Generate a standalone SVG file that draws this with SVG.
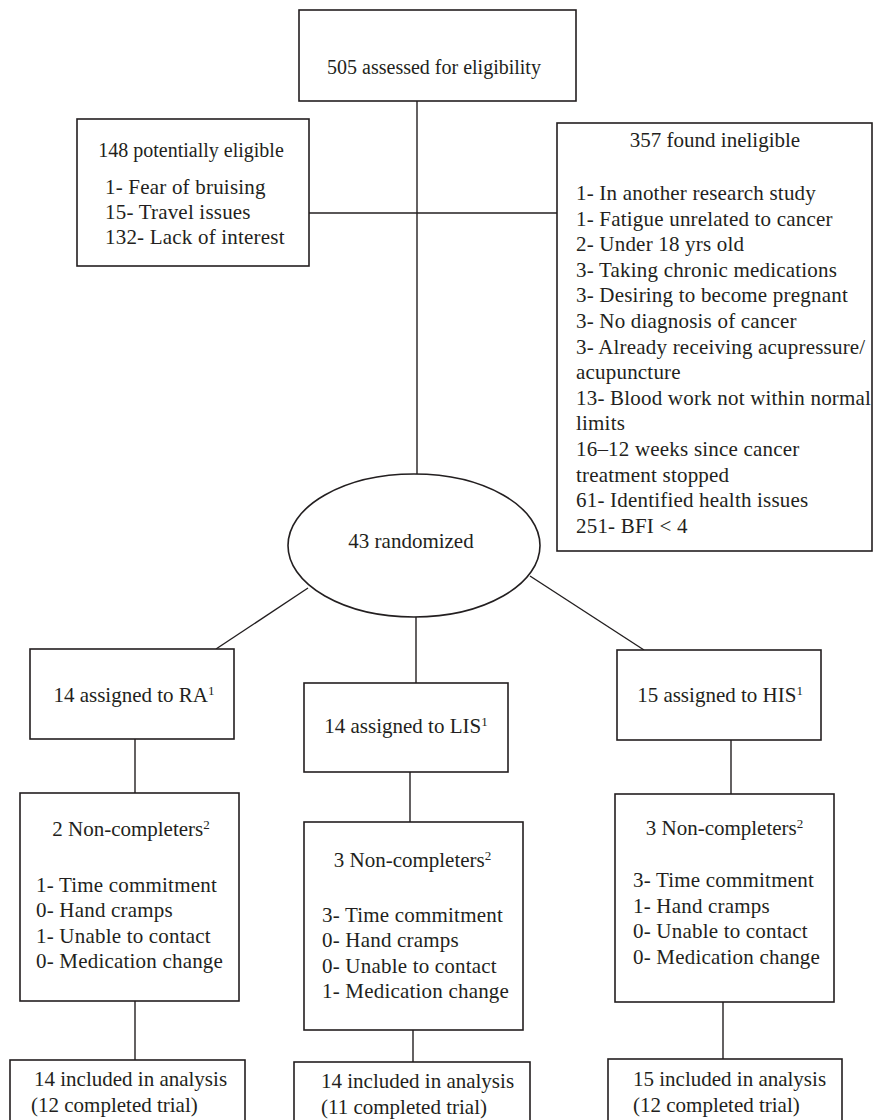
<svg xmlns="http://www.w3.org/2000/svg" width="873" height="1120" viewBox="0 0 873 1120">
<style>
.box{fill:#fff;stroke:#231f20;stroke-width:1.6}
.ln{stroke:#231f20;stroke-width:1.4;fill:none}
text{font-family:"Liberation Serif","Times New Roman",serif;font-size:21px;fill:#231f20}
.c{text-anchor:middle}
.it{letter-spacing:0.2px}
.t20{font-size:20px}
.sup{font-size:13px;letter-spacing:0}
</style>
<rect width="873" height="1120" fill="#fff"/>
<g id="connectors">
<line class="ln" x1="417" y1="101" x2="417" y2="474"/>
<line class="ln" x1="309" y1="213" x2="557" y2="213"/>
<line class="ln" x1="308" y1="588" x2="216" y2="649"/>
<line class="ln" x1="416" y1="617" x2="416" y2="683"/>
<line class="ln" x1="530" y1="576" x2="644" y2="650"/>
<line class="ln" x1="135" y1="739" x2="135" y2="793"/>
<line class="ln" x1="410" y1="772" x2="410" y2="822"/>
<line class="ln" x1="731" y1="740" x2="731" y2="794"/>
<line class="ln" x1="135" y1="1001" x2="135" y2="1060"/>
<line class="ln" x1="413" y1="1030" x2="413" y2="1062"/>
<line class="ln" x1="723" y1="1002" x2="723" y2="1059"/>
</g>
<g id="assessed">
<rect class="box" x="299" y="10" width="277" height="91"/>
<text class="c t20" x="434" y="74">505 assessed for eligibility</text>
</g>
<g id="potentially">
<rect class="box" x="77" y="119" width="232" height="147"/>
<text class="c t20" x="191" y="157">148 potentially eligible</text>
<text class="it" x="105" y="194">1- Fear of bruising</text>
<text class="it" x="105" y="219">15- Travel issues</text>
<text class="it" x="105" y="244">132- Lack of interest</text>
</g>
<g id="ineligible">
<rect class="box" x="557" y="123" width="315" height="428"/>
<text class="c" x="715" y="147">357 found ineligible</text>
<text class="it" x="576" y="200">1- In another research study</text>
<text class="it" x="576" y="225.6">1- Fatigue unrelated to cancer</text>
<text class="it" x="576" y="251.2">2- Under 18 yrs old</text>
<text class="it" x="576" y="276.8">3- Taking chronic medications</text>
<text class="it" x="576" y="302.4">3- Desiring to become pregnant</text>
<text class="it" x="576" y="328">3- No diagnosis of cancer</text>
<text class="it" x="576" y="353.6">3- Already receiving acupressure/</text>
<text class="it" x="576" y="379.2">acupuncture</text>
<text class="it" x="576" y="404.8">13- Blood work not within normal</text>
<text class="it" x="576" y="430.4">limits</text>
<text class="it" x="576" y="456">16–12 weeks since cancer</text>
<text class="it" x="576" y="481.6">treatment stopped</text>
<text class="it" x="576" y="507.2">61- Identified health issues</text>
<text class="it" x="576" y="532.8">251- BFI &lt; 4</text>
</g>
<g id="randomized">
<ellipse class="box" cx="414" cy="545.5" rx="126" ry="71.5"/>
<text class="c" x="411" y="548">43 randomized</text>
</g>
<g id="ra">
<rect class="box" x="30" y="649" width="204" height="90"/>
<text class="c" x="134" y="702">14 assigned to RA<tspan class="sup" dy="-7">1</tspan></text>
</g>
<g id="lis">
<rect class="box" x="304" y="683" width="204" height="89"/>
<text class="c" x="406" y="733">14 assigned to LIS<tspan class="sup" dy="-7">1</tspan></text>
</g>
<g id="his">
<rect class="box" x="617" y="650" width="204" height="90"/>
<text class="c" x="720" y="702">15 assigned to HIS<tspan class="sup" dy="-7">1</tspan></text>
</g>
<g id="ra-nc">
<rect class="box" x="20" y="793" width="219" height="208"/>
<text class="c" x="131" y="836">2 Non-completers<tspan class="sup" dy="-7">2</tspan></text>
<text class="it" x="36" y="892">1- Time commitment</text>
<text class="it" x="36" y="917">0- Hand cramps</text>
<text class="it" x="36" y="943">1- Unable to contact</text>
<text class="it" x="36" y="968">0- Medication change</text>
</g>
<g id="lis-nc">
<rect class="box" x="304" y="822" width="219" height="208"/>
<text class="c" x="412.5" y="867">3 Non-completers<tspan class="sup" dy="-7">2</tspan></text>
<text class="it" x="322" y="922">3- Time commitment</text>
<text class="it" x="322" y="947">0- Hand cramps</text>
<text class="it" x="322" y="973">0- Unable to contact</text>
<text class="it" x="322" y="998">1- Medication change</text>
</g>
<g id="his-nc">
<rect class="box" x="615" y="794" width="219" height="208"/>
<text class="c" x="724.5" y="835">3 Non-completers<tspan class="sup" dy="-7">2</tspan></text>
<text class="it" x="633" y="887">3- Time commitment</text>
<text class="it" x="633" y="913">1- Hand cramps</text>
<text class="it" x="633" y="938">0- Unable to contact</text>
<text class="it" x="633" y="964">0- Medication change</text>
</g>
<g id="ra-analysis">
<rect class="box" x="10" y="1060" width="235" height="80"/>
<text x="34" y="1086">14 included in analysis</text>
<text x="31" y="1112">(12 completed trial)</text>
</g>
<g id="lis-analysis">
<rect class="box" x="294" y="1062" width="236" height="80"/>
<text x="321" y="1088">14 included in analysis</text>
<text x="321" y="1114">(11 completed trial)</text>
</g>
<g id="his-analysis">
<rect class="box" x="608" y="1059" width="234" height="80"/>
<text x="633" y="1086">15 included in analysis</text>
<text x="633" y="1112">(12 completed trial)</text>
</g>
</svg>
